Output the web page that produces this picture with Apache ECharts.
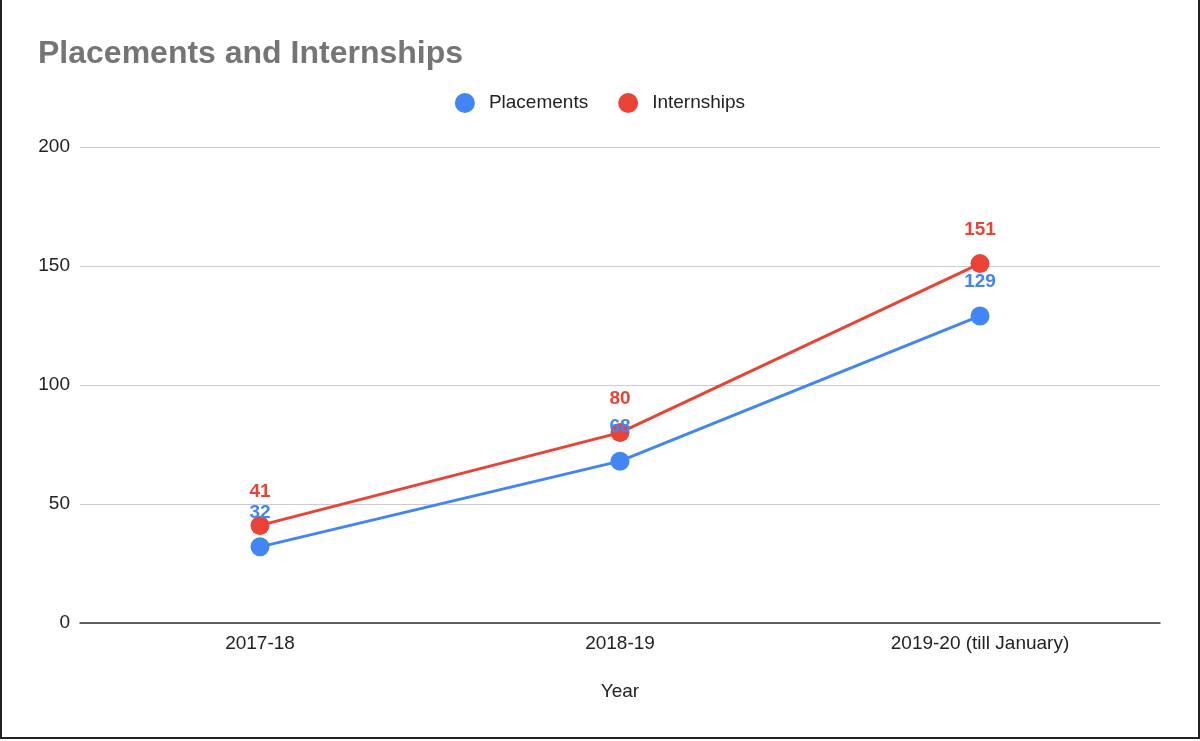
<!DOCTYPE html>
<html>
<head>
<meta charset="utf-8">
<script src="https://cdn.jsdelivr.net/npm/echarts@6/dist/echarts.min.js"></script>
<style>
    html, body { margin: 0; padding: 0; background: #fff; }
    #chart { width: 1196px; height: 737px; border: 2px solid #222; border-top: none; }
</style>
</head>
<body>
<div id="chart"></div>
<script>
    // 数据
    var years = ["2017-18", "2018-19", "2019-20 (till January)"];
    var placements = [32, 68, 129];
    var internships = [41, 80, 151];
    var yTicks = [0, 50, 100, 150, 200];

    var blue = "#4285F4";
    var red = "#EA4335";
    var font = "Liberation Sans, Arial, sans-serif";

    function lineSeries(name, data, color) {
        return {
            name: name,
            type: "line",
            data: data,
            symbol: "circle",
            symbolSize: 19,
            lineStyle: { color: color, width: 3 },
            itemStyle: { color: color },
            label: {
                show: true,
                position: "top",
                distance: 15,
                color: color,
                fontSize: 19,
                fontWeight: "bold",
                fontFamily: font
            }
        };
    }

    var myChart = echarts.init(document.getElementById("chart"));
    var option = {
        animation: false,
        textStyle: { fontFamily: font },
        title: {
            text: "Placements and Internships",
            left: 31,
            top: 33,
            textStyle: { color: "#757575", fontSize: 32, fontWeight: "bold", fontFamily: font }
        },
        legend: {
            top: 88,
            left: "center",
            icon: "circle",
            itemWidth: 20,
            itemHeight: 20,
            itemGap: 30,
            textStyle: { color: "#222", fontSize: 19, fontFamily: font, padding: [0, 0, 0, 9] },
            data: ["Placements", "Internships"]
        },
        grid: { left: 78, right: 38, top: 147, bottom: 114 },
        xAxis: {
            type: "category",
            data: years,
            name: "Year",
            nameLocation: "middle",
            nameGap: 59,
            nameTextStyle: { color: "#222", fontSize: 19, fontFamily: font },
            axisLine: { lineStyle: { color: "#333", width: 1.5 } },
            axisTick: { show: false },
            axisLabel: { color: "#222", fontSize: 19, margin: 11, fontFamily: font }
        },
        yAxis: {
            type: "value",
            min: yTicks[0],
            max: yTicks[yTicks.length - 1],
            interval: 50,
            axisLine: { show: false },
            axisTick: { show: false },
            axisLabel: { color: "#222", fontSize: 19, margin: 10, fontFamily: font },
            splitLine: { lineStyle: { color: "#ccc", width: 1 } }
        },
        series: [
            lineSeries("Placements", placements, blue),
            lineSeries("Internships", internships, red)
        ]
    };
    myChart.setOption(option);
</script>
</body>
</html>
